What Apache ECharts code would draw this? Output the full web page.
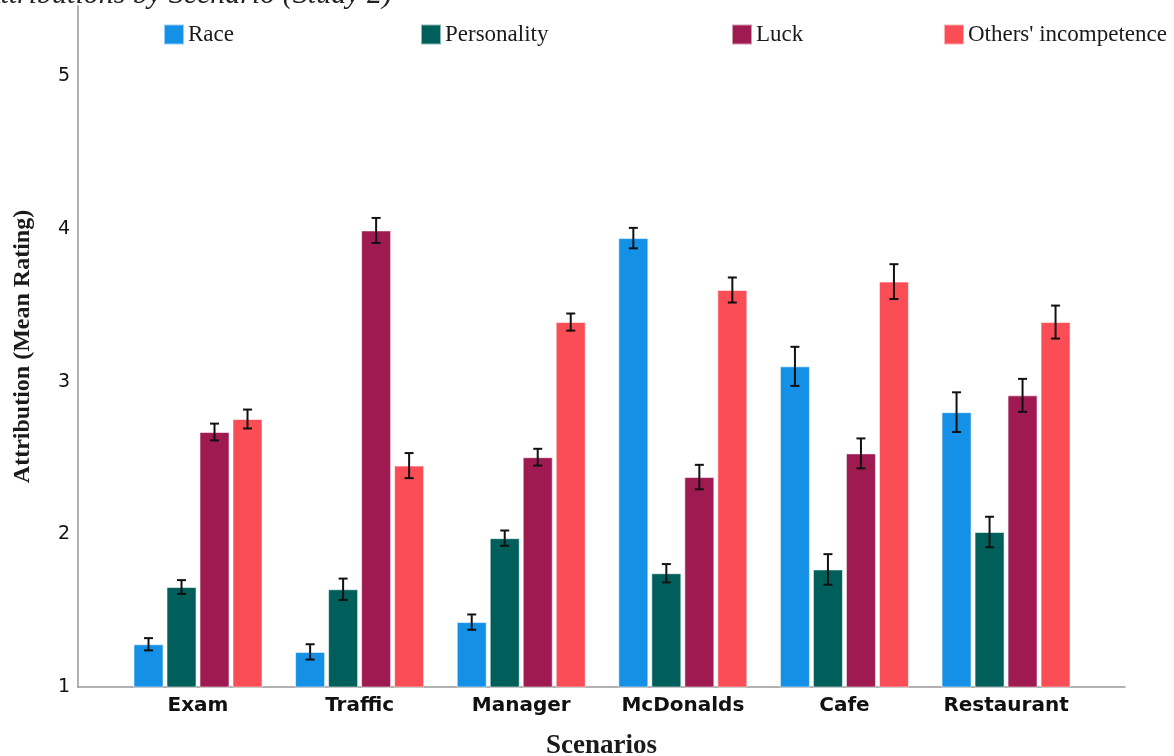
<!DOCTYPE html>
<html>
<head>
<meta charset="utf-8">
<script src="https://cdn.jsdelivr.net/npm/echarts@6/dist/echarts.min.js"></script>
<style>
  html, body { margin: 0; padding: 0; background: #ffffff; }
  #chart { width: 1174px; height: 756px; }
</style>
</head>
<body>
<div id="chart"></div>
<script>
// Scenarios on the horizontal axis
const scenarios = ['Exam', 'Traffic', 'Manager', 'McDonalds', 'Cafe', 'Restaurant'];
// Rating ticks on the vertical axis
const ratingTicks = [1, 2, 3, 4, 5];

// Mean attribution ratings per factor
const raceMean        = [1.28, 1.23, 1.425, 3.94, 3.10, 2.80];
const personalityMean = [1.655, 1.64, 1.975, 1.745, 1.77, 2.015];
const luckMean        = [2.67, 3.99, 2.505, 2.375, 2.53, 2.91];
const othersMean      = [2.755, 2.45, 3.39, 3.60, 3.655, 3.39];

// Half-widths of the error bars
const raceErr        = [0.04, 0.05, 0.05, 0.067, 0.128, 0.13];
const personalityErr = [0.045, 0.07, 0.05, 0.06, 0.10, 0.10];
const luckErr        = [0.055, 0.082, 0.055, 0.08, 0.098, 0.108];
const othersErr      = [0.062, 0.082, 0.056, 0.082, 0.114, 0.108];

const factorNames = ['Race', 'Personality', 'Luck', "Others' incompetence"];
const factorColors = ['#1490E6', '#005F5B', '#9E1A50', '#FA4D56'];
const factorMeans = [raceMean, personalityMean, luckMean, othersMean];
const factorErrs = [raceErr, personalityErr, luckErr, othersErr];
const legendLefts = [163, 420, 731, 943];

const BAR_W = 30;
const BAR_GAP = 3;

const chart = echarts.init(document.getElementById('chart'), null, { renderer: 'canvas' });

const barSeries = factorNames.map((name, k) => ({
  name: name,
  type: 'bar',
  barWidth: BAR_W,
  barGap: (BAR_GAP / BAR_W * 100) + '%',
  itemStyle: {
    color: factorColors[k],
    borderColor: 'rgba(255,255,255,0.55)',
    borderWidth: 1
  },
  emphasis: { disabled: true },
  data: scenarios.map((s, i) => [i, factorMeans[k][i]]),
  z: 2
}));

const errorSeries = factorNames.map((name, k) => ({
  name: name + ' CI',
  type: 'custom',
  encode: { x: 0, y: [1, 2] },
  data: scenarios.map((s, i) => [i, factorMeans[k][i] - factorErrs[k][i], factorMeans[k][i] + factorErrs[k][i]]),
  z: 5,
  silent: true,
  renderItem: function (params, api) {
    const lo = api.coord([api.value(0), api.value(1)]);
    const hi = api.coord([api.value(0), api.value(2)]);
    const cx = lo[0] + (k - 1.5) * (BAR_W + BAR_GAP);
    const cap = 4.5;
    const style = { stroke: '#111111', lineWidth: 2 };
    return {
      type: 'group',
      children: [
        { type: 'line', shape: { x1: cx, y1: lo[1], x2: cx, y2: hi[1] }, style: style },
        { type: 'line', shape: { x1: cx - cap, y1: hi[1], x2: cx + cap, y2: hi[1] }, style: style },
        { type: 'line', shape: { x1: cx - cap, y1: lo[1], x2: cx + cap, y2: lo[1] }, style: style }
      ]
    };
  }
}));

const legends = factorNames.map((name, k) => ({
  data: [name],
  left: legendLefts[k],
  top: 23,
  padding: 0,
  icon: 'rect',
  itemWidth: 20,
  itemHeight: 20,
  itemGap: 0,
  selectedMode: false,
  textStyle: {
    fontFamily: 'Liberation Serif',
    fontSize: 23,
    color: '#1a1a1a',
    padding: [0, 0, 0, -1]
  }
}));

chart.setOption({
  animation: false,
  backgroundColor: '#ffffff',
  legend: legends,
  graphic: [{
    type: 'text',
    x: 392,
    y: -5,
    style: {
      text: 'Attributions by Scenario (Study 2)',
      textAlign: 'right',
      textVerticalAlign: 'middle',
      font: 'italic 30px "Liberation Serif"',
      fill: '#222222'
    }
  }],
  grid: { left: 78, right: 49, top: 6, bottom: 69, containLabel: false, outerBoundsMode: 'none' },
  xAxis: {
    type: 'value',
    min: -0.7426,
    max: 5.736,
    name: 'Scenarios',
    nameLocation: 'middle',
    nameGap: 46,
    nameTextStyle: {
      fontFamily: 'Liberation Serif',
      fontWeight: 'bold',
      fontSize: 27,
      color: '#1a1a1a',
      verticalAlign: 'top'
    },
    axisLine: { show: true, onZero: false, lineStyle: { color: '#999999', width: 1.5 } },
    axisTick: { show: false },
    splitLine: { show: false },
    axisLabel: {
      customValues: scenarios.map((s, i) => i),
      formatter: v => scenarios[Math.round(v)],
      fontFamily: 'DejaVu Sans',
      fontWeight: 'bold',
      fontSize: 20,
      color: '#111111',
      margin: 9
    }
  },
  yAxis: {
    type: 'value',
    min: 1,
    max: 5.46,
    name: 'Attribution (Mean Rating)',
    nameLocation: 'middle',
    nameGap: 43,
    nameTextStyle: {
      fontFamily: 'Liberation Serif',
      fontWeight: 'bold',
      fontSize: 24,
      color: '#1a1a1a'
    },
    axisLine: { show: true, onZero: false, lineStyle: { color: '#999999', width: 1.5 } },
    axisTick: { show: false },
    splitLine: { show: false },
    axisLabel: {
      customValues: ratingTicks,
      fontFamily: 'DejaVu Sans',
      fontSize: 19,
      color: '#111111',
      margin: 8
    }
  },
  series: barSeries.concat(errorSeries)
});
</script>
</body>
</html>
